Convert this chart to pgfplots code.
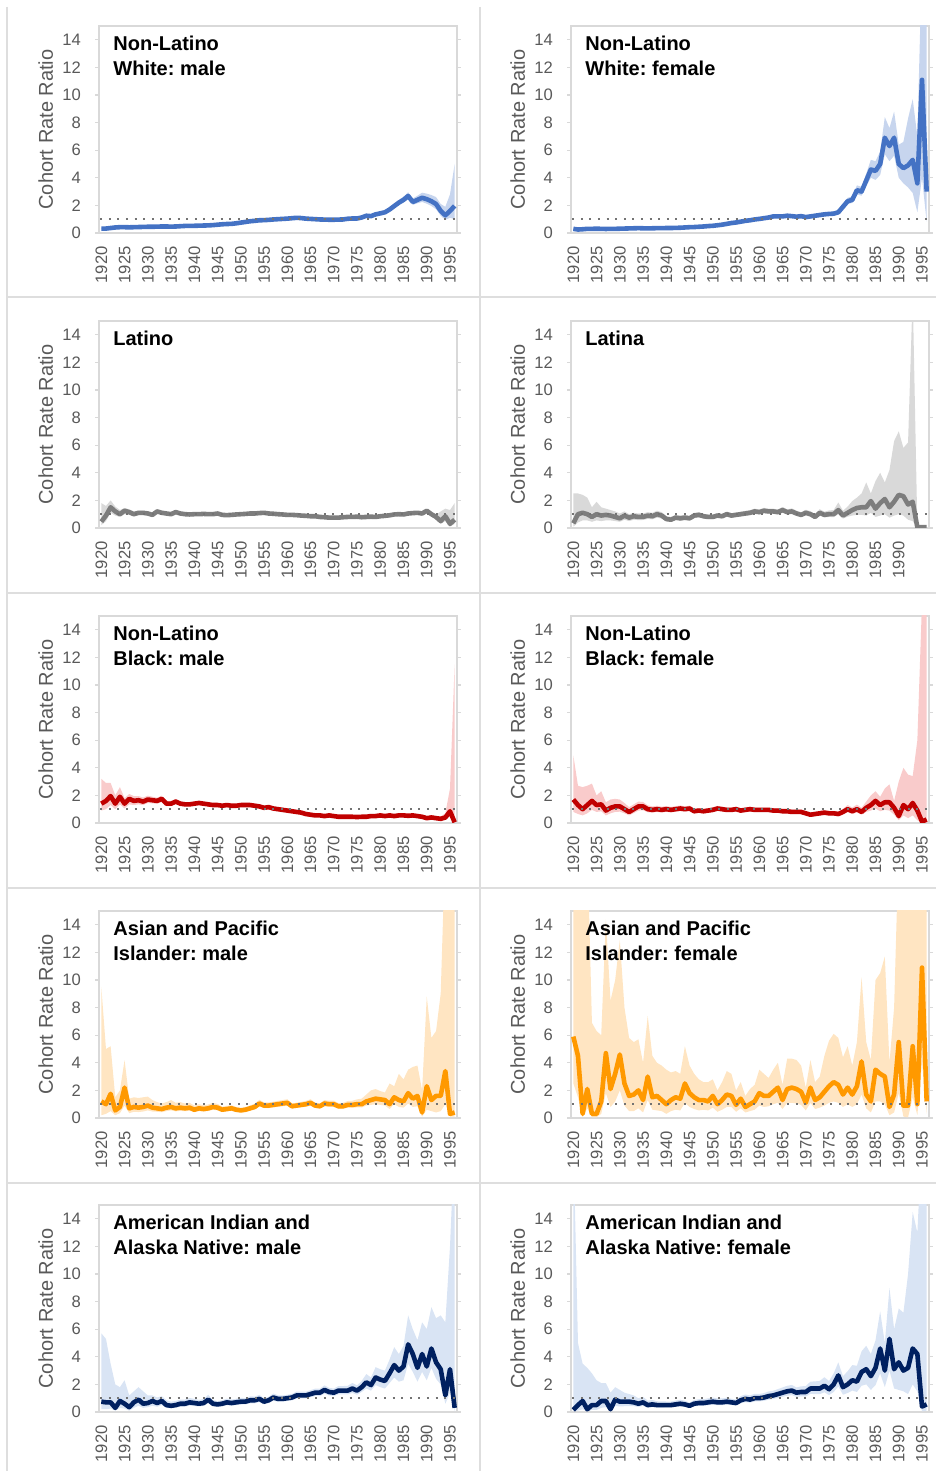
\documentclass[border=0pt]{standalone}
\usepackage{fontspec}
\setmainfont{Liberation Sans}
\usepackage{pgfplots}
\usepackage{pgfplotstable}
\pgfplotsset{compat=1.18}
\usepgfplotslibrary{fillbetween}
\frenchspacing

\definecolor{wline}{RGB}{68,114,196}
\definecolor{wband}{RGB}{199,213,238}
\definecolor{lline}{RGB}{125,125,125}
\definecolor{lband}{RGB}{217,217,217}
\definecolor{bline}{RGB}{192,0,0}
\definecolor{bband}{RGB}{249,203,203}
\definecolor{aline}{RGB}{255,153,0}
\definecolor{aband}{RGB}{255,229,194}
\definecolor{nline}{RGB}{0,32,96}
\definecolor{nband}{RGB}{217,228,244}
\definecolor{gridc}{RGB}{217,217,217}
\definecolor{labc}{RGB}{89,89,89}
\definecolor{refc}{RGB}{115,115,115}
\definecolor{sepc}{RGB}{222,222,222}

% columns: cohort year, ratio, lower and upper bound
\pgfplotstableread{
yr v lo hi
1920 0.31 0.27 0.36
1921 0.32 0.28 0.37
1922 0.36 0.32 0.41
1923 0.40 0.36 0.45
1924 0.42 0.38 0.47
1925 0.42 0.38 0.47
1926 0.41 0.37 0.46
1927 0.42 0.38 0.47
1928 0.43 0.39 0.48
1929 0.44 0.40 0.49
1930 0.45 0.41 0.50
1931 0.45 0.41 0.50
1932 0.46 0.42 0.51
1933 0.47 0.43 0.52
1934 0.47 0.43 0.52
1935 0.46 0.42 0.51
1936 0.47 0.43 0.52
1937 0.49 0.45 0.54
1938 0.51 0.47 0.56
1939 0.52 0.48 0.57
1940 0.52 0.48 0.57
1941 0.53 0.49 0.58
1942 0.54 0.50 0.59
1943 0.55 0.51 0.60
1944 0.57 0.53 0.62
1945 0.60 0.56 0.65
1946 0.63 0.59 0.68
1947 0.65 0.61 0.70
1948 0.66 0.62 0.71
1949 0.70 0.66 0.75
1950 0.75 0.70 0.80
1951 0.80 0.75 0.85
1952 0.85 0.80 0.90
1953 0.88 0.83 0.93
1954 0.92 0.87 0.97
1955 0.93 0.88 0.98
1956 0.95 0.90 1.00
1957 0.98 0.93 1.03
1958 1.00 0.95 1.05
1959 1.02 0.97 1.07
1960 1.04 0.99 1.09
1961 1.07 1.02 1.12
1962 1.10 1.05 1.15
1963 1.08 1.03 1.13
1964 1.04 0.99 1.09
1965 1.02 0.97 1.07
1966 1.00 0.95 1.05
1967 0.98 0.93 1.03
1968 0.97 0.92 1.02
1969 0.96 0.91 1.01
1970 0.96 0.91 1.01
1971 0.97 0.92 1.02
1972 0.98 0.93 1.03
1973 1.03 0.98 1.09
1974 1.05 0.99 1.11
1975 1.05 0.99 1.11
1976 1.12 1.05 1.19
1977 1.25 1.17 1.33
1978 1.22 1.14 1.31
1979 1.35 1.26 1.45
1980 1.42 1.32 1.53
1981 1.50 1.39 1.62
1982 1.70 1.57 1.84
1983 1.95 1.80 2.12
1984 2.20 2.02 2.40
1985 2.40 2.20 2.63
1986 2.68 2.44 2.95
1987 2.25 2.04 2.50
1988 2.40 2.15 2.70
1989 2.55 2.25 2.92
1990 2.45 2.12 2.85
1991 2.30 1.95 2.75
1992 2.10 1.72 2.60
1993 1.60 1.25 2.10
1994 1.28 0.95 1.90
1995 1.60 1.10 2.80
1996 1.96 1.00 5.00
}\tWM

\pgfplotstableread{
yr v lo hi
1920 0.30 0.26 0.34
1921 0.25 0.22 0.29
1922 0.27 0.24 0.31
1923 0.30 0.27 0.34
1924 0.30 0.27 0.34
1925 0.31 0.28 0.35
1926 0.30 0.27 0.34
1927 0.29 0.26 0.33
1928 0.30 0.27 0.34
1929 0.30 0.27 0.34
1930 0.31 0.28 0.35
1931 0.32 0.29 0.36
1932 0.33 0.30 0.37
1933 0.34 0.31 0.38
1934 0.35 0.32 0.39
1935 0.34 0.31 0.38
1936 0.33 0.30 0.37
1937 0.34 0.31 0.38
1938 0.35 0.32 0.39
1939 0.35 0.32 0.39
1940 0.36 0.33 0.40
1941 0.36 0.33 0.40
1942 0.37 0.34 0.41
1943 0.38 0.35 0.42
1944 0.40 0.36 0.44
1945 0.42 0.38 0.46
1946 0.43 0.39 0.47
1947 0.45 0.41 0.49
1948 0.47 0.43 0.51
1949 0.50 0.46 0.55
1950 0.52 0.48 0.57
1951 0.56 0.51 0.61
1952 0.60 0.55 0.65
1953 0.66 0.61 0.72
1954 0.72 0.66 0.78
1955 0.76 0.70 0.82
1956 0.82 0.76 0.89
1957 0.88 0.81 0.95
1958 0.92 0.85 0.99
1959 0.98 0.91 1.06
1960 1.02 0.94 1.10
1961 1.07 0.99 1.15
1962 1.12 1.04 1.21
1963 1.20 1.11 1.30
1964 1.20 1.11 1.30
1965 1.20 1.11 1.30
1966 1.25 1.15 1.36
1967 1.22 1.12 1.33
1968 1.18 1.08 1.29
1969 1.22 1.12 1.33
1970 1.15 1.05 1.26
1971 1.20 1.10 1.31
1972 1.25 1.14 1.37
1973 1.30 1.19 1.42
1974 1.35 1.23 1.48
1975 1.38 1.26 1.51
1976 1.40 1.28 1.54
1977 1.50 1.37 1.65
1978 1.90 1.73 2.10
1979 2.30 2.10 2.55
1980 2.40 2.18 2.65
1981 3.10 2.80 3.45
1982 3.00 2.70 3.35
1983 3.80 3.40 4.30
1984 4.60 4.00 5.30
1985 4.50 3.85 5.20
1986 5.00 4.20 5.90
1987 6.90 5.70 8.40
1988 6.30 5.20 7.60
1989 6.90 5.60 8.80
1990 5.00 4.00 6.40
1991 4.70 3.60 6.60
1992 4.90 3.30 8.30
1993 5.30 2.90 9.70
1994 3.60 1.50 7.00
1995 11.1 4.00 20.0
1996 3.00 0.80 20.0
}\tWF

\pgfplotstableread{
yr v lo hi
1920 0.46 0.20 1.80
1921 0.90 0.50 1.60
1922 1.50 1.10 2.00
1923 1.20 0.90 1.55
1924 1.00 0.80 1.30
1925 1.25 1.00 1.45
1926 1.15 0.95 1.35
1927 1.00 0.85 1.20
1928 1.10 0.95 1.25
1929 1.10 0.95 1.25
1930 1.05 0.92 1.20
1931 0.95 0.83 1.08
1932 1.20 1.05 1.35
1933 1.10 0.97 1.23
1934 1.05 0.93 1.17
1935 1.00 0.90 1.12
1936 1.15 1.03 1.27
1937 1.05 0.95 1.15
1938 1.00 0.90 1.10
1939 0.98 0.88 1.08
1940 1.00 0.90 1.10
1941 1.00 0.91 1.09
1942 1.02 0.93 1.11
1943 1.00 0.91 1.09
1944 1.00 0.91 1.09
1945 1.05 0.96 1.14
1946 0.95 0.87 1.03
1947 0.93 0.85 1.01
1948 0.95 0.87 1.03
1949 0.98 0.90 1.06
1950 1.00 0.92 1.08
1951 1.02 0.94 1.10
1952 1.05 0.97 1.13
1953 1.05 0.97 1.13
1954 1.08 1.00 1.16
1955 1.10 1.02 1.18
1956 1.05 0.97 1.13
1957 1.03 0.95 1.11
1958 1.00 0.93 1.07
1959 0.98 0.91 1.05
1960 0.95 0.88 1.02
1961 0.95 0.88 1.02
1962 0.93 0.86 1.00
1963 0.90 0.83 0.97
1964 0.88 0.81 0.95
1965 0.85 0.79 0.91
1966 0.85 0.79 0.91
1967 0.80 0.74 0.86
1968 0.78 0.72 0.84
1969 0.75 0.69 0.81
1970 0.75 0.69 0.81
1971 0.75 0.69 0.81
1972 0.78 0.72 0.84
1973 0.80 0.74 0.86
1974 0.80 0.74 0.86
1975 0.82 0.76 0.88
1976 0.78 0.72 0.84
1977 0.80 0.74 0.86
1978 0.82 0.76 0.88
1979 0.80 0.74 0.86
1980 0.85 0.78 0.92
1981 0.88 0.81 0.95
1982 0.92 0.85 0.99
1983 0.98 0.90 1.06
1984 1.00 0.92 1.08
1985 0.98 0.90 1.06
1986 1.05 0.96 1.14
1987 1.08 0.98 1.18
1988 1.10 1.00 1.20
1989 1.05 0.95 1.15
1990 1.25 1.10 1.40
1991 1.00 0.85 1.15
1992 0.80 0.65 0.95
1993 0.50 0.30 1.20
1994 0.85 0.50 1.40
1995 0.30 0.10 1.30
1996 0.60 0.30 1.80
}\tLM

\pgfplotstableread{
yr v lo hi
1920 0.34 0.10 2.50
1921 1.00 0.40 2.50
1922 1.10 0.55 2.40
1923 1.00 0.55 2.20
1924 0.80 0.45 1.50
1925 1.00 0.55 1.90
1926 0.90 0.50 1.50
1927 0.95 0.55 1.40
1928 0.90 0.55 1.30
1929 0.80 0.50 1.20
1930 0.70 0.45 1.05
1931 0.90 0.60 1.20
1932 0.75 0.50 1.00
1933 0.85 0.60 1.10
1934 0.80 0.57 1.05
1935 0.80 0.58 1.05
1936 0.90 0.66 1.15
1937 0.85 0.63 1.10
1938 1.00 0.75 1.25
1939 0.90 0.68 1.15
1940 0.65 0.48 0.85
1941 0.60 0.45 0.80
1942 0.75 0.57 0.95
1943 0.70 0.53 0.90
1944 0.75 0.57 0.95
1945 0.70 0.54 0.88
1946 0.90 0.72 1.10
1947 0.95 0.77 1.15
1948 0.85 0.69 1.03
1949 0.80 0.65 0.97
1950 0.80 0.65 0.97
1951 0.90 0.74 1.08
1952 0.85 0.70 1.02
1953 1.00 0.83 1.19
1954 0.90 0.75 1.07
1955 0.95 0.80 1.12
1956 1.00 0.84 1.18
1957 1.05 0.88 1.24
1958 1.10 0.93 1.29
1959 1.20 1.02 1.40
1960 1.15 0.98 1.34
1961 1.25 1.06 1.46
1962 1.20 1.02 1.40
1963 1.20 1.02 1.40
1964 1.15 0.98 1.34
1965 1.30 1.10 1.52
1966 1.15 0.97 1.35
1967 1.20 1.01 1.42
1968 1.05 0.88 1.25
1969 0.95 0.79 1.14
1970 1.10 0.91 1.32
1971 1.00 0.82 1.22
1972 0.80 0.65 1.00
1973 1.10 0.89 1.36
1974 0.95 0.77 1.18
1975 1.00 0.80 1.27
1976 1.00 0.79 1.30
1977 1.30 0.98 1.85
1978 0.90 0.68 1.25
1979 1.10 0.82 1.55
1980 1.30 0.90 1.95
1981 1.45 0.95 2.20
1982 1.50 0.95 2.50
1983 1.50 0.90 3.30
1984 1.95 1.10 2.50
1985 1.40 0.80 3.40
1986 1.80 0.90 4.00
1987 2.10 1.00 3.30
1988 1.50 0.75 4.20
1989 1.90 0.90 6.30
1990 2.40 1.00 7.00
1991 2.30 0.90 5.80
1992 1.70 0.60 6.20
1993 1.90 0.50 17.0
1994 0.05 0.00 0.00
1995 0.05 0.00 0.00
1996 0.05 0.00 0.00
}\tLF

\pgfplotstableread{
yr v lo hi
1920 1.40 0.90 3.20
1921 1.60 1.00 2.90
1922 1.95 1.30 2.90
1923 1.40 1.00 2.00
1924 1.90 1.35 2.60
1925 1.40 1.05 1.80
1926 1.75 1.35 2.10
1927 1.60 1.30 1.95
1928 1.65 1.35 1.95
1929 1.55 1.30 1.85
1930 1.70 1.45 1.98
1931 1.65 1.42 1.90
1932 1.60 1.40 1.83
1933 1.75 1.52 1.98
1934 1.40 1.22 1.60
1935 1.40 1.23 1.58
1936 1.55 1.37 1.73
1937 1.40 1.25 1.57
1938 1.35 1.20 1.51
1939 1.35 1.21 1.50
1940 1.40 1.26 1.55
1941 1.45 1.31 1.60
1942 1.40 1.27 1.54
1943 1.35 1.22 1.49
1944 1.30 1.18 1.43
1945 1.30 1.18 1.43
1946 1.25 1.14 1.37
1947 1.30 1.19 1.42
1948 1.25 1.14 1.37
1949 1.25 1.14 1.37
1950 1.30 1.19 1.42
1951 1.30 1.19 1.42
1952 1.30 1.19 1.42
1953 1.25 1.14 1.37
1954 1.20 1.10 1.31
1955 1.10 1.00 1.21
1956 1.15 1.05 1.26
1957 1.05 0.96 1.15
1958 1.00 0.91 1.10
1959 0.95 0.87 1.04
1960 0.90 0.82 0.99
1961 0.85 0.78 0.93
1962 0.80 0.73 0.88
1963 0.75 0.68 0.83
1964 0.65 0.59 0.72
1965 0.60 0.55 0.66
1966 0.55 0.50 0.61
1967 0.55 0.50 0.61
1968 0.50 0.45 0.56
1969 0.55 0.50 0.61
1970 0.50 0.45 0.56
1971 0.45 0.40 0.51
1972 0.45 0.40 0.51
1973 0.45 0.40 0.51
1974 0.45 0.40 0.51
1975 0.43 0.38 0.49
1976 0.45 0.40 0.51
1977 0.45 0.40 0.51
1978 0.50 0.44 0.57
1979 0.50 0.44 0.57
1980 0.55 0.48 0.63
1981 0.50 0.44 0.58
1982 0.55 0.48 0.64
1983 0.50 0.43 0.58
1984 0.55 0.47 0.65
1985 0.55 0.47 0.65
1986 0.52 0.44 0.62
1987 0.55 0.46 0.66
1988 0.50 0.41 0.62
1989 0.45 0.36 0.57
1990 0.35 0.27 0.48
1991 0.40 0.30 0.55
1992 0.35 0.25 0.50
1993 0.30 0.20 0.48
1994 0.40 0.25 0.70
1995 0.85 0.45 2.50
1996 0.05 0.00 11.5
}\tBM

\pgfplotstableread{
yr v lo hi
1920 1.70 0.80 4.90
1921 1.30 0.65 2.70
1922 1.00 0.55 2.60
1923 1.30 0.70 2.70
1924 1.60 0.95 2.85
1925 1.30 0.80 2.00
1926 1.35 0.85 2.30
1927 0.90 0.55 1.50
1928 1.10 0.70 1.70
1929 1.20 0.80 1.75
1930 1.20 0.82 1.70
1931 1.00 0.70 1.45
1932 0.80 0.55 1.15
1933 1.00 0.72 1.35
1934 1.20 0.90 1.55
1935 1.20 0.92 1.52
1936 1.00 0.78 1.28
1937 0.95 0.75 1.20
1938 1.00 0.80 1.25
1939 0.95 0.76 1.18
1940 1.00 0.81 1.23
1941 0.95 0.77 1.17
1942 1.00 0.82 1.22
1943 1.05 0.86 1.27
1944 1.00 0.83 1.20
1945 1.05 0.87 1.26
1946 0.85 0.70 1.03
1947 0.90 0.75 1.08
1948 0.85 0.71 1.02
1949 0.90 0.75 1.08
1950 0.95 0.80 1.13
1951 1.05 0.89 1.24
1952 1.00 0.85 1.18
1953 0.95 0.81 1.12
1954 0.95 0.81 1.12
1955 1.00 0.85 1.18
1956 0.90 0.77 1.06
1957 0.95 0.81 1.12
1958 1.00 0.85 1.18
1959 0.95 0.81 1.12
1960 0.95 0.81 1.12
1961 0.95 0.81 1.12
1962 0.95 0.81 1.12
1963 0.90 0.76 1.07
1964 0.90 0.76 1.07
1965 0.85 0.72 1.01
1966 0.85 0.72 1.01
1967 0.80 0.67 0.96
1968 0.80 0.67 0.96
1969 0.80 0.67 0.96
1970 0.70 0.58 0.85
1971 0.60 0.49 0.74
1972 0.65 0.53 0.80
1973 0.70 0.57 0.86
1974 0.75 0.61 0.93
1975 0.70 0.56 0.88
1976 0.70 0.56 0.88
1977 0.65 0.52 0.82
1978 0.80 0.63 1.02
1979 1.00 0.78 1.30
1980 0.85 0.65 1.12
1981 1.00 0.76 1.33
1982 0.80 0.60 1.10
1983 1.10 0.80 1.55
1984 1.30 0.90 2.00
1985 1.60 1.05 2.30
1986 1.30 0.85 1.90
1987 1.50 0.95 2.50
1988 1.50 0.90 2.80
1989 1.10 0.60 1.60
1990 0.50 0.20 3.00
1991 1.30 0.55 4.00
1992 1.00 0.35 3.50
1993 1.45 0.55 3.40
1994 0.90 0.20 6.00
1995 0.10 0.00 16.0
1996 0.25 0.00 20.0
}\tBF

\pgfplotstableread{
yr v lo hi
1920 1.20 0.20 9.50
1921 1.00 0.30 5.00
1922 1.75 0.50 5.20
1923 0.55 0.20 1.50
1924 0.80 0.35 2.00
1925 2.20 0.90 4.20
1926 0.70 0.35 1.40
1927 0.80 0.45 1.50
1928 0.75 0.43 1.45
1929 0.80 0.47 1.50
1930 0.90 0.55 1.55
1931 0.75 0.47 1.30
1932 0.70 0.45 1.15
1933 0.65 0.42 1.05
1934 0.75 0.50 1.15
1935 0.80 0.55 1.30
1936 0.70 0.48 1.10
1937 0.75 0.52 1.15
1938 0.70 0.49 1.05
1939 0.75 0.53 1.10
1940 0.60 0.42 0.90
1941 0.70 0.50 1.00
1942 0.65 0.47 0.92
1943 0.70 0.51 0.98
1944 0.80 0.59 1.10
1945 0.75 0.56 1.02
1946 0.60 0.45 0.82
1947 0.65 0.49 0.88
1948 0.70 0.53 0.93
1949 0.60 0.45 0.80
1950 0.55 0.42 0.73
1951 0.60 0.46 0.79
1952 0.70 0.54 0.91
1953 0.80 0.63 1.03
1954 1.05 0.84 1.32
1955 0.90 0.72 1.13
1956 0.90 0.72 1.13
1957 0.95 0.77 1.18
1958 1.00 0.81 1.24
1959 1.05 0.85 1.30
1960 1.10 0.89 1.36
1961 0.85 0.69 1.05
1962 0.90 0.73 1.11
1963 0.95 0.77 1.17
1964 1.00 0.81 1.24
1965 1.10 0.89 1.36
1966 0.90 0.73 1.12
1967 0.85 0.69 1.06
1968 1.05 0.85 1.30
1969 1.00 0.81 1.25
1970 1.00 0.80 1.26
1971 0.85 0.68 1.08
1972 0.85 0.67 1.10
1973 0.95 0.75 1.23
1974 0.95 0.74 1.25
1975 1.00 0.77 1.35
1976 1.00 0.76 1.40
1977 1.20 0.90 1.70
1978 1.30 0.95 2.00
1979 1.40 1.00 2.10
1980 1.35 0.95 1.95
1981 1.30 0.90 1.85
1982 1.00 0.65 2.50
1983 1.50 1.00 2.30
1984 1.30 0.80 3.20
1985 1.20 0.75 2.80
1986 1.80 1.05 3.50
1987 1.40 0.80 3.70
1988 1.60 0.85 3.80
1989 0.40 0.10 2.00
1990 2.30 0.60 8.80
1991 1.30 0.50 5.80
1992 1.60 0.40 6.30
1993 1.60 0.50 9.00
1994 3.40 1.00 20.0
1995 0.30 0.10 20.0
1996 0.40 0.10 20.0
}\tAM

\pgfplotstableread{
yr v lo hi
1920 5.90 2.50 20.0
1921 4.50 1.50 20.0
1922 0.30 0.05 20.0
1923 2.10 0.70 20.0
1924 0.30 0.05 6.90
1925 0.30 0.05 6.30
1926 1.20 0.30 6.00
1927 4.70 1.80 14.4
1928 2.10 0.80 8.50
1929 3.20 1.20 10.0
1930 4.60 2.00 12.9
1931 2.50 0.90 8.00
1932 1.60 0.50 5.80
1933 1.70 0.50 5.50
1934 2.00 0.70 5.70
1935 1.30 0.40 4.00
1936 3.00 1.30 7.40
1937 1.50 0.60 4.50
1938 1.60 0.55 4.00
1939 1.30 0.50 3.80
1940 1.00 0.30 3.50
1941 1.30 0.50 3.30
1942 1.50 0.60 3.40
1943 1.40 0.55 3.20
1944 2.50 1.10 5.20
1945 1.80 0.80 3.80
1946 1.50 0.65 3.20
1947 1.30 0.55 2.80
1948 1.30 0.60 2.60
1949 1.20 0.55 2.60
1950 1.60 0.75 2.80
1951 1.00 0.45 2.00
1952 1.30 0.60 2.60
1953 1.70 0.80 3.40
1954 1.60 0.80 3.20
1955 0.95 0.45 2.00
1956 1.40 0.70 2.60
1957 0.80 0.40 1.60
1958 1.00 0.50 2.10
1959 1.20 0.60 2.40
1960 1.80 0.90 3.50
1961 1.60 0.80 3.20
1962 1.60 0.85 2.90
1963 1.90 1.00 3.50
1964 2.20 1.10 4.00
1965 1.30 0.65 2.40
1966 2.10 1.10 4.30
1967 2.20 1.10 4.30
1968 2.10 1.05 4.20
1969 1.90 0.95 3.80
1970 1.10 0.55 2.20
1971 2.20 1.10 4.20
1972 1.30 0.65 2.60
1973 1.50 0.75 3.00
1974 1.90 0.90 4.50
1975 2.30 1.10 5.60
1976 2.60 1.20 6.10
1977 2.40 1.10 5.80
1978 1.70 0.80 4.40
1979 2.20 1.00 5.20
1980 1.70 0.80 3.80
1981 2.30 1.00 5.50
1982 4.10 1.70 10.2
1983 1.70 0.70 5.50
1984 1.20 0.40 4.20
1985 3.50 1.20 10.0
1986 3.20 1.20 10.5
1987 3.00 1.00 11.7
1988 0.80 0.20 4.00
1989 1.70 0.40 8.00
1990 5.50 1.80 20.0
1991 0.90 0.10 20.0
1992 0.90 0.05 20.0
1993 5.20 1.50 20.0
1994 1.00 0.20 20.0
1995 10.9 4.00 20.0
1996 1.20 0.30 20.0
}\tAF

\pgfplotstableread{
yr v lo hi
1920 0.75 0.20 5.70
1921 0.70 0.20 5.30
1922 0.70 0.25 3.50
1923 0.30 0.10 2.00
1924 0.80 0.30 1.80
1925 0.60 0.25 2.30
1926 0.35 0.10 1.20
1927 0.70 0.30 1.50
1928 0.90 0.45 1.80
1929 0.60 0.30 1.50
1930 0.65 0.35 1.20
1931 0.80 0.45 1.20
1932 0.65 0.38 1.05
1933 0.80 0.50 1.15
1934 0.50 0.30 0.85
1935 0.45 0.27 0.75
1936 0.50 0.31 0.80
1937 0.60 0.38 0.90
1938 0.60 0.39 0.90
1939 0.70 0.46 1.02
1940 0.65 0.43 0.95
1941 0.60 0.40 0.88
1942 0.65 0.44 0.94
1943 0.90 0.62 1.25
1944 0.60 0.41 0.86
1945 0.55 0.38 0.79
1946 0.60 0.42 0.85
1947 0.70 0.49 0.97
1948 0.65 0.46 0.90
1949 0.70 0.50 0.96
1950 0.75 0.54 1.02
1951 0.75 0.55 1.01
1952 0.85 0.63 1.13
1953 0.85 0.63 1.12
1954 0.95 0.72 1.24
1955 0.75 0.56 0.99
1956 0.85 0.65 1.10
1957 1.05 0.82 1.34
1958 0.95 0.74 1.21
1959 0.95 0.75 1.20
1960 1.00 0.80 1.25
1961 1.05 0.84 1.31
1962 1.20 0.97 1.48
1963 1.20 0.98 1.47
1964 1.20 0.98 1.47
1965 1.30 1.07 1.58
1966 1.40 1.16 1.69
1967 1.40 1.16 1.69
1968 1.60 1.33 1.93
1969 1.45 1.20 1.75
1970 1.40 1.16 1.70
1971 1.55 1.28 1.88
1972 1.55 1.28 1.88
1973 1.55 1.27 1.90
1974 1.70 1.38 2.10
1975 1.55 1.25 1.93
1976 1.80 1.45 2.25
1977 2.15 1.70 2.75
1978 1.95 1.55 2.50
1979 2.50 1.95 3.25
1980 2.35 1.80 3.10
1981 2.25 1.70 3.00
1982 2.80 2.10 3.80
1983 3.40 2.50 4.70
1984 3.00 2.20 4.20
1985 3.30 2.30 4.80
1986 4.90 3.50 7.00
1987 4.20 2.90 6.00
1988 3.20 2.20 5.20
1989 4.20 2.90 6.50
1990 3.30 2.30 6.00
1991 4.60 3.20 7.60
1992 3.60 2.40 6.80
1993 3.10 2.00 7.00
1994 1.20 0.60 6.50
1995 3.10 1.40 12.0
1996 0.30 0.05 20.0
}\tNM

\pgfplotstableread{
yr v lo hi
1920 0.15 0.05 20.0
1921 0.50 0.10 5.00
1922 0.80 0.20 3.50
1923 0.20 0.05 3.20
1924 0.50 0.15 2.80
1925 0.50 0.15 2.30
1926 0.80 0.30 2.10
1927 0.80 0.35 2.10
1928 0.20 0.05 1.40
1929 0.90 0.45 1.80
1930 0.75 0.40 1.60
1931 0.75 0.42 1.40
1932 0.75 0.43 1.30
1933 0.70 0.42 1.20
1934 0.60 0.37 1.00
1935 0.70 0.44 1.10
1936 0.50 0.31 0.82
1937 0.55 0.35 0.87
1938 0.50 0.32 0.78
1939 0.50 0.32 0.77
1940 0.50 0.33 0.76
1941 0.50 0.33 0.76
1942 0.55 0.37 0.82
1943 0.60 0.40 0.89
1944 0.55 0.37 0.81
1945 0.45 0.30 0.68
1946 0.60 0.41 0.87
1947 0.65 0.45 0.93
1948 0.65 0.45 0.93
1949 0.70 0.49 0.99
1950 0.75 0.53 1.05
1951 0.70 0.50 0.98
1952 0.70 0.50 0.98
1953 0.75 0.54 1.04
1954 0.70 0.51 0.96
1955 0.65 0.47 0.90
1956 0.85 0.63 1.15
1957 0.95 0.71 1.27
1958 0.90 0.68 1.20
1959 1.00 0.76 1.32
1960 1.00 0.77 1.31
1961 1.05 0.81 1.37
1962 1.15 0.89 1.49
1963 1.20 0.94 1.54
1964 1.30 1.02 1.66
1965 1.40 1.10 1.78
1966 1.50 1.18 1.90
1967 1.55 1.22 1.96
1968 1.40 1.10 1.78
1969 1.45 1.13 1.86
1970 1.45 1.12 1.88
1971 1.70 1.31 2.20
1972 1.70 1.30 2.22
1973 1.70 1.29 2.25
1974 1.90 1.43 2.52
1975 1.65 1.22 2.25
1976 2.00 1.45 2.80
1977 2.65 1.85 3.60
1978 1.80 1.25 2.60
1979 2.00 1.38 2.95
1980 2.30 1.55 3.40
1981 2.20 1.45 3.35
1982 2.90 1.90 4.40
1983 3.10 2.00 4.80
1984 2.60 1.60 4.20
1985 3.20 1.95 5.20
1986 4.60 2.80 7.30
1987 3.00 1.80 5.00
1988 5.30 3.00 9.00
1989 3.10 1.70 6.00
1990 3.60 1.60 7.50
1991 3.00 1.50 7.20
1992 3.20 1.30 10.0
1993 4.60 2.00 14.5
1994 4.20 1.50 13.0
1995 0.40 0.05 20.0
1996 0.55 0.10 20.0
}\tNF

\pgfplotsset{
  cohort/.style={
    scale only axis, width=179pt, height=103.5pt,
    xmin=1919.5, xmax=1996.5, ymin=0, ymax=15,
    ytick={0,2,...,14},
    axis line style={draw=gridc, line width=0.7pt},
    tick style={draw=gridc, line width=0.6pt},
    major tick length=2pt, tick align=outside,
    xtick style={draw=none},
    /pgf/number format/1000 sep={},
    /pgf/number format/assume math mode=true,
    ticklabel style={font=\fontsize{8.3}{10}\selectfont, text=labc},
    yticklabel shift=3.6pt,
    xticklabel shift=1.2pt,
    xticklabel style={rotate=90, anchor=east},
    ylabel={Cohort Rate Ratio},
    every axis y label/.style={at={(axis description cs:-0.149,0.5)},
      rotate=90, anchor=center, font=\fontsize{10}{12}\selectfont, text=labc},
  }
}

% #1 position, #2 table, #3 line colour, #4 band colour, #5 title, #6 xticks
\newcommand{\panel}[6]{%
\begin{axis}[cohort, at={(#1)}, anchor=south west, xtick={#6}]
\addplot[draw=none, name path=hi, forget plot] table[x=yr,y=hi]{#2};
\addplot[draw=none, name path=lo, forget plot] table[x=yr,y=lo]{#2};
\addplot[fill=#4, draw=none] fill between[of=hi and lo];
\addplot[#3, line width=2.3pt, line join=round] table[x=yr,y=v]{#2};
\addplot[refc, line width=1.2pt, dash pattern=on 1pt off 3.3pt]
  coordinates {(1919.75,1) (1996.5,1)};
\node[anchor=north west, inner sep=0pt, align=left,
  font=\bfseries\fontsize{10}{12.5}\selectfont]
  at ([xshift=7pt,yshift=-5pt]rel axis cs:0,1) {#5};
\end{axis}}

\begin{document}
\begin{tikzpicture}
% cell separators
\draw[sepc, line width=0.75pt] (3.5pt,732pt) -- (3.5pt,0pt);
\draw[sepc, line width=0.75pt] (240pt,732pt) -- (240pt,0pt);
\foreach \yy in {587,439,291.5,144}
  \draw[sepc, line width=0.75pt] (3.5pt,\yy pt) -- (468pt,\yy pt);

\panel{49.5pt,619pt}{\tWM}{wline}{wband}{Non-Latino\\White: male}{1920,1925,...,1995}
\panel{285.5pt,619pt}{\tWF}{wline}{wband}{Non-Latino\\White: female}{1920,1925,...,1995}
\panel{49.5pt,471.5pt}{\tLM}{lline}{lband}{Latino}{1920,1925,...,1995}
\panel{285.5pt,471.5pt}{\tLF}{lline}{lband}{Latina}{1920,1925,...,1990}
\panel{49.5pt,324pt}{\tBM}{bline}{bband}{Non-Latino\\Black: male}{1920,1925,...,1995}
\panel{285.5pt,324pt}{\tBF}{bline}{bband}{Non-Latino\\Black: female}{1920,1925,...,1995}
\panel{49.5pt,176.5pt}{\tAM}{aline}{aband}{Asian and Pacific\\Islander: male}{1920,1925,...,1995}
\panel{285.5pt,176.5pt}{\tAF}{aline}{aband}{Asian and Pacific\\Islander: female}{1920,1925,...,1995}
\panel{49.5pt,29.5pt}{\tNM}{nline}{nband}{American Indian and\\Alaska Native: male}{1920,1925,...,1995}
\panel{285.5pt,29.5pt}{\tNF}{nline}{nband}{American Indian and\\Alaska Native: female}{1920,1925,...,1995}

\pgfresetboundingbox
\path[use as bounding box] (0pt,0pt) rectangle (468pt,735.5pt);
\end{tikzpicture}
\end{document}
